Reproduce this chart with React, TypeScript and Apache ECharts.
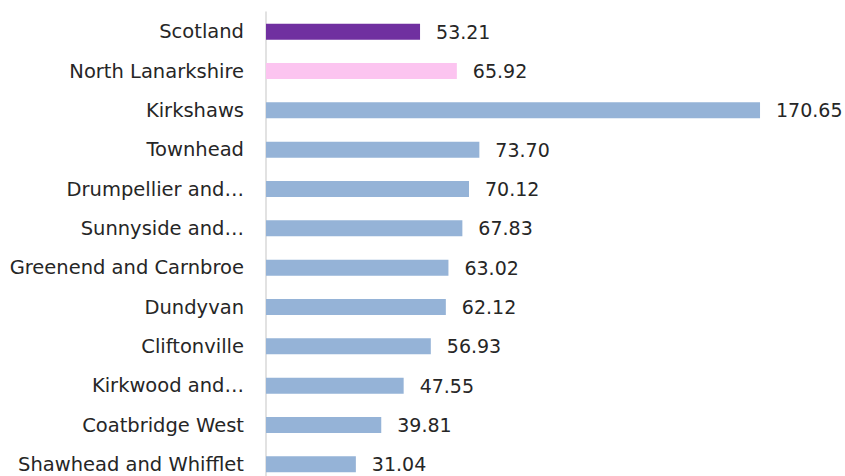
import React, { useEffect, useRef } from "react";
import * as echarts from "echarts";

const categories = [
  "Scotland",
  "North Lanarkshire",
  "Kirkshaws",
  "Townhead",
  "Drumpellier and…",
  "Sunnyside and…",
  "Greenend and Carnbroe",
  "Dundyvan",
  "Cliftonville",
  "Kirkwood and…",
  "Coatbridge West",
  "Shawhead and Whifflet",
];
const values = [53.21, 65.92, 170.65, 73.7, 70.12, 67.83, 63.02, 62.12, 56.93, 47.55, 39.81, 31.04];
const barColors = [
  "#7030A0",
  "#FCC4F0",
  "#95B3D7",
  "#95B3D7",
  "#95B3D7",
  "#95B3D7",
  "#95B3D7",
  "#95B3D7",
  "#95B3D7",
  "#95B3D7",
  "#95B3D7",
  "#95B3D7",
];

const FONT = "'DejaVu Sans', sans-serif";

export default function App() {
  const ref = useRef<HTMLDivElement>(null);
  useEffect(() => {
    if (!ref.current) return;
    const chart = echarts.init(ref.current, null, { renderer: "svg" });
    chart.setOption({
      animation: false,
      backgroundColor: "#ffffff",
      grid: { left: 266, right: 0, top: 12, bottom: 0, containLabel: false },
      xAxis: {
        type: "value",
        min: 0,
        max: 200,
        show: false,
      },
      yAxis: {
        type: "category",
        inverse: true,
        data: categories,
        axisLine: { show: true, lineStyle: { color: "#D9D9D9", width: 1.5 } },
        axisTick: { show: false },
        axisLabel: {
          color: "#262626",
          fontFamily: FONT,
          fontSize: 19.5,
          margin: 22,
        },
        splitLine: { show: false },
      },
      series: [
        {
          type: "bar",
          data: values.map((v, i) => ({ value: v, itemStyle: { color: barColors[i] } })),
          barWidth: 16,
          label: {
            show: true,
            position: "right",
            distance: 16,
            color: "#262626",
            fontFamily: FONT,
            fontSize: 19,
            formatter: (p: any) => Number(p.value).toFixed(2),
          },
        },
      ],
    });
    return () => chart.dispose();
  }, []);
  return (
    <div
      style={{ position: "absolute", left: 0, top: 0, width: 845, height: 476, overflow: "hidden" }}
    >
      <div ref={ref} style={{ width: 845, height: 484 }} />
    </div>
  );
}
